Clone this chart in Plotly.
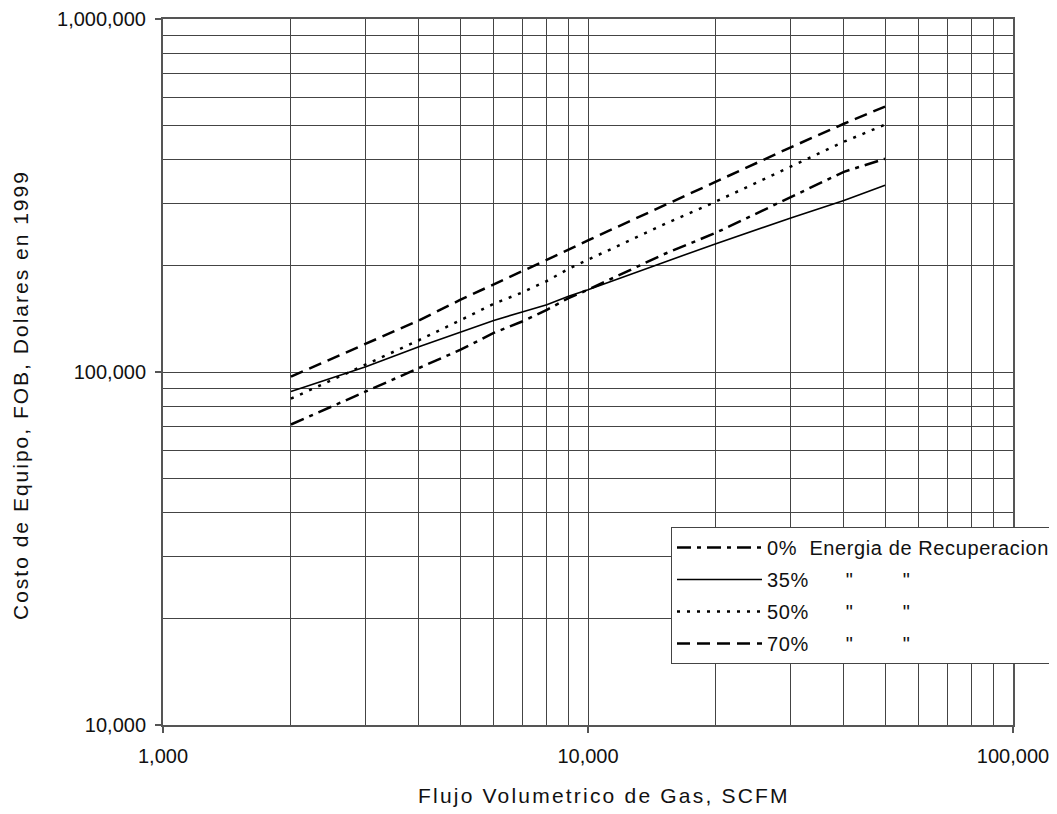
import plotly.graph_objects as go

# ---- data ----
flow_scfm = [2000, 3000, 4000, 5000, 6000, 7000, 8000, 9000, 10000,
             15000, 20000, 30000, 40000, 50000]
cost_0pct = [71000, 88000, 103000, 115500, 129000, 139000, 150000, 162000, 171000,
             215000, 248000, 312000, 369000, 402000]
cost_35pct = [88000, 103500, 118000, 129500, 140000, 148000, 155000, 164000, 171000,
              204000, 231000, 273000, 306000, 338000]
cost_50pct = [84000, 105000, 123000, 140000, 156000, 168000, 181000, 196000, 208000,
              261000, 304000, 382000, 449000, 502000]
cost_70pct = [97000, 120000, 140000, 160000, 177000, 193000, 207000, 222000, 236000,
              295000, 347000, 433000, 505000, 565000]

series_names = [
    "0%\u00a0\u00a0Energia de Recuperacion\u00a0",
    "35%" + "\u00a0" * 6 + '"' + "\u00a0" * 8 + '"',
    "50%" + "\u00a0" * 6 + '"' + "\u00a0" * 8 + '"',
    "70%" + "\u00a0" * 6 + '"' + "\u00a0" * 8 + '"',
]

x_tickvals = [1000, 10000, 100000]
x_ticktext = ["1,000", "10,000", "100,000"]
y_tickvals = [10000, 100000, 1000000]
y_ticktext = ["10,000", "100,000", "1,000,000"]
x_minor = [m * 10 ** e for e in (3, 4) for m in range(2, 10)]
y_minor = [m * 10 ** e for e in (4, 5) for m in range(2, 10)]

FONT = "Liberation Sans, Arial, sans-serif"
GRID = "#444444"

# page body has an 8px margin, so the figure is sized / offset to compensate
W, H = 1049, 806
ML, MR, MT, MB = 155, 44, 11, 89
PW, PH = W - ML - MR, H - MT - MB

fig = go.Figure()
styles = [
    dict(dash="14px,6px,4px,6px", width=2.5),
    dict(dash="solid", width=1.6),
    dict(dash="3px,7px", width=2.5),
    dict(dash="13px,7px", width=2.5),
]
for name, ys, st in zip(series_names, [cost_0pct, cost_35pct, cost_50pct, cost_70pct], styles):
    fig.add_trace(go.Scatter(
        x=flow_scfm, y=ys, mode="lines",
        name='<span style="letter-spacing:0.6px">' + name + '</span>',
        legendgroup=name,
        line=dict(color="black", width=st["width"], dash=st["dash"]),
    ))

axis_common = dict(
    type="log", showgrid=True, gridcolor=GRID, gridwidth=1,
    ticks="outside", ticklen=6, tickcolor="#555", tickwidth=1.5,
    showline=True, linecolor="#555", linewidth=2, mirror=True,
    zeroline=False, automargin=False,
    tickfont=dict(family=FONT, size=20, color="#111"),
)

fig.update_layout(
    width=W, height=H,
    margin=dict(l=ML, r=MR, t=MT, b=MB, autoexpand=False),
    paper_bgcolor="white", plot_bgcolor="white",
    font=dict(family=FONT, size=20, color="#111"),
    xaxis=dict(range=[3, 5], tickvals=x_tickvals, ticktext=x_ticktext,
               minor=dict(tickvals=x_minor, showgrid=True, gridcolor=GRID, gridwidth=1, ticks=""),
               ticklabelstandoff=6, **axis_common),
    yaxis=dict(range=[4, 6], tickvals=y_tickvals, ticktext=y_ticktext,
               minor=dict(tickvals=y_minor, showgrid=True, gridcolor=GRID, gridwidth=1, ticks=""),
               ticklabelstandoff=5, **axis_common),
    showlegend=True,
    legend=dict(
        x=(663 - ML) / PW, y=(MT + PH - 519) / PH, xanchor="left", yanchor="top",
        bgcolor="white", bordercolor="#444", borderwidth=1,
        font=dict(family=FONT, size=20, color="#111"),
        itemwidth=85, tracegroupgap=3,
    ),
    annotations=[
        dict(text='<span style="letter-spacing:2.2px">Flujo Volumetrico de Gas, SCFM</span>',
             xref="paper", yref="paper", x=(596 - ML) / PW, y=(MT + PH - 787) / PH,
             xanchor="center", yanchor="middle", showarrow=False,
             font=dict(family=FONT, size=21, color="#111")),
        dict(text='<span style="letter-spacing:2.0px">Costo de Equipo, FOB, Dolares en 1999</span>',
             xref="paper", yref="paper", x=(12 - ML) / PW, y=(MT + PH - 387) / PH,
             xanchor="center", yanchor="middle", showarrow=False, textangle=-90,
             font=dict(family=FONT, size=21, color="#111")),
    ],
)

fig.write_html("out.html")
